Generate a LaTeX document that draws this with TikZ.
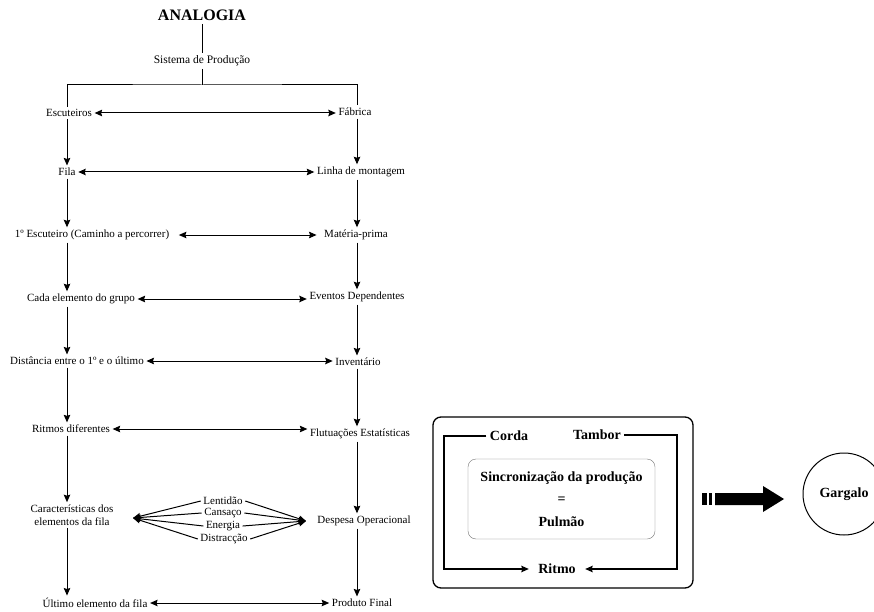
\documentclass[tikz,border=0pt]{standalone}
\usepackage{fontspec}
\setmainfont{Liberation Serif}
\usetikzlibrary{arrows.meta, positioning}

\begin{document}
\begin{tikzpicture}[
        x=1pt, y=-1pt,
        item/.style={font=\fontsize{11}{12.5}\selectfont, inner sep=2.5pt},
        bigtext/.style={font=\bfseries\fontsize{14}{22.5}\selectfont},
        line/.style={line width=1pt},
        arrow/.style={-{Stealth[length=7.5pt, width=6.5pt, inset=1pt]}, line width=1pt},
        biarrow/.style={{Stealth[length=7.5pt, width=6.5pt, inset=1pt]}-{Stealth[length=7.5pt, width=6.5pt, inset=1pt]}, line width=1pt}
    ]
        \useasboundingbox (0,0) rectangle (874,612);

        % analogia
        \node[font=\bfseries\fontsize{16}{19}\selectfont] (ana) at (202,15) {ANALOGIA};
        \node[item, font=\fontsize{11.5}{13}\selectfont] (sis) at (202,61) {Sistema de Produção};
        \coordinate (jn) at (202,85);
        \coordinate (xl) at (67,0);
        \coordinate (xr) at (357,0);

        \node[item] (esc) at (69,113) {Escuteiros};
        \node[item] (fab) at (355,112) {Fábrica};
        \node[item] (fila) at (67,172) {Fila};
        \node[item] (lin) at (361,172) {Linha de montagem};
        \node[item] (esc1) at (92,235) {1º Escuteiro (Caminho a percorrer)};
        \node[item] (mat) at (356,235) {Matéria-prima};
        \node[item] (cada) at (81,299) {Cada elemento do grupo};
        \node[item] (evt) at (357,297) {Eventos Dependentes};
        \node[item] (dist) at (77,361) {Distância entre o 1º e o último};
        \node[item] (inv) at (358,362) {Inventário};
        \node[item] (rit) at (71,429) {Ritmos diferentes};
        \node[item] (flu) at (360,434) {Flutuações Estatísticas};
        \node[item, align=center] (car) at (72,515) {Características dos\\elementos da fila};
        \node[item] (desp) at (364,521) {Despesa Operacional};
        \node[item] (ult) at (95,603) {Último elemento da fila};
        \node[item] (prod) at (362,603) {Produto Final};

        \node[item] (len) at (223,501) {Lentidão};
        \node[item] (can) at (223,513) {Cansaço};
        \node[item] (ene) at (223,526) {Energia};
        \node[item] (dis) at (224,539) {Distracção};
        \coordinate (fl) at (133,518);
        \coordinate (fr) at (306,521);

        \draw[line] (ana) -- (sis);
        \draw[line] (sis) -- (jn);
        \draw[line] (esc.north -| xl) |- (jn) -| (fab.north -| xr);

        \draw[biarrow] (esc.east) -- (esc.east -| fab.west);
        \draw[biarrow] (fila.east) -- (fila.east -| lin.west);
        \draw[biarrow, shorten <=7pt, shorten >=5pt] (esc1.east) -- (esc1.east -| mat.west);
        \draw[biarrow] (cada.east) -- (cada.east -| evt.west);
        \draw[biarrow] (dist.east) -- (dist.east -| inv.west);
        \draw[biarrow] (rit.east) -- (rit.east -| flu.west);
        \draw[biarrow] (ult.east) -- (ult.east -| prod.west);

        \draw[arrow] (esc.south -| xl) -- (fila.north -| xl);
        \draw[arrow] (fila.south -| xl) -- (esc1.north -| xl);
        \draw[arrow] (esc1.south -| xl) -- (cada.north -| xl);
        \draw[arrow] (cada.south -| xl) -- (dist.north -| xl);
        \draw[arrow] (dist.south -| xl) -- (rit.north -| xl);
        \draw[arrow] (rit.south -| xl) -- (car.north -| xl);
        \draw[arrow] (car.south -| xl) -- (ult.north -| xl);

        \draw[arrow] (fab.south -| xr) -- (lin.north -| xr);
        \draw[arrow] (lin.south -| xr) -- (mat.north -| xr);
        \draw[arrow] (mat.south -| xr) -- (evt.north -| xr);
        \draw[arrow] (evt.south -| xr) -- (inv.north -| xr);
        \draw[arrow] (inv.south -| xr) -- (flu.north -| xr);
        \draw[arrow] (flu.south -| xr) -- (desp.north -| xr);
        \draw[arrow] (desp.south -| xr) -- (prod.north -| xr);

        \draw[arrow] (len.west) -- (fl);
        \draw[arrow] (can.west) -- (fl);
        \draw[arrow] (ene.west) -- (fl);
        \draw[arrow] (dis.west) -- (fl);
        \draw[arrow] (len.east) -- (fr);
        \draw[arrow] (can.east) -- (fr);
        \draw[arrow] (ene.east) -- (fr);
        \draw[arrow] (dis.east) -- (fr);

        % tambor-pulmao-corda
        \draw[line width=1.3pt, rounded corners=8pt] (433,417) rectangle (693,588);
        \node[bigtext] (corda) at (509,436) {Corda};
        \node[bigtext] (tamb) at (597,435) {Tambor};
        \node[bigtext] (ritmo) at (557,569) {Ritmo};
        \coordinate (cl) at (444,569);
        \coordinate (cr) at (677,569);
        \draw[arrow, line width=1.1pt, shorten >=6pt] (corda.west) -| (cl) -- (ritmo.west);
        \draw[arrow, line width=1.1pt, shorten >=6pt] (tamb.east) -| (cr) -- (ritmo.east);
        \node[draw=black!55, rounded corners=8pt, minimum width=187pt, minimum height=80pt, align=center, bigtext] (sinc) at (561.5,499) {Sincronização da produção\\=\\Pulmão};

        \fill (702,493) rectangle (707,505);
        \fill (709,493) rectangle (712,505);
        \fill (715,493) -- (763,493) -- (763,486) -- (784,499) -- (763,512) -- (763,505) -- (715,505) -- cycle;

        \node[draw, circle, line width=1pt, minimum size=82pt, bigtext] (garg) at (844,494) {Gargalo};
    \end{tikzpicture}
\end{document}
